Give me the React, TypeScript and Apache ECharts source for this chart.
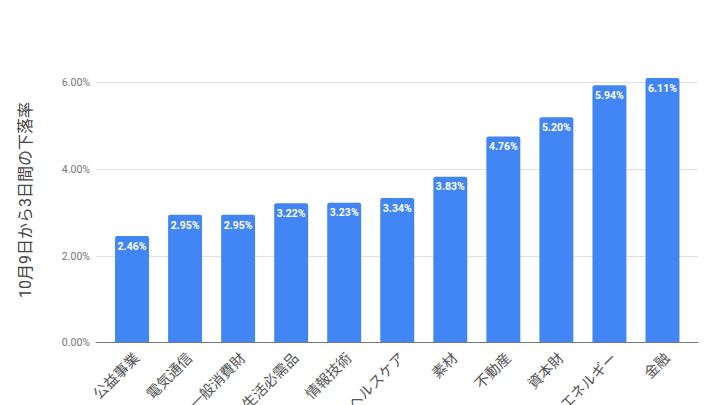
import { useEffect, useRef } from 'react';
import * as echarts from 'echarts';

const categories = [
  '公益事業',
  '電気通信',
  '一般消費財',
  '生活必需品',
  '情報技術',
  'ヘルスケア',
  '素材',
  '不動産',
  '資本財',
  'エネルギー',
  '金融',
];
const values = [2.46, 2.95, 2.95, 3.22, 3.23, 3.34, 3.83, 4.76, 5.2, 5.94, 6.11];
const yTitle = '10月9日から3日間の下落率';

const FONT = "Roboto, 'Noto Sans CJK JP', sans-serif";
const pct = (v: number) => `${v.toFixed(2)}%`;

export default function App() {
  const ref = useRef<HTMLDivElement>(null);

  useEffect(() => {
    const dom = ref.current!;
    const chart = echarts.init(dom, null, { renderer: 'svg' });

    const top = 82.7;
    const bottom = 62.3;

    chart.setOption({
      animation: false,
      textStyle: { fontFamily: FONT },
      // grid 0: gridlines + zero line, grid 1: the bars (inset like Sheets)
      grid: [
        { left: 96, right: 22, top, bottom, outerBoundsMode: 'none' },
        { left: 105.5, right: 31, top, bottom, outerBoundsMode: 'none' },
      ],
      xAxis: [
        {
          type: 'category',
          gridIndex: 0,
          data: [''],
          z: 5,
          axisLine: { lineStyle: { color: '#777', width: 1 } },
          axisTick: { show: false },
          axisLabel: { show: false },
        },
        {
          type: 'category',
          gridIndex: 1,
          data: categories,
          axisLine: { show: false },
          axisTick: { show: false },
          axisLabel: {
            rotate: 45,
            interval: 0,
            margin: 8,
            fontSize: 14.5,
            color: '#555',
            verticalAlign: 'top',
            fontFamily: FONT,
          },
        },
      ],
      yAxis: [
        {
          type: 'value',
          gridIndex: 0,
          min: 0,
          max: 6,
          interval: 2,
          axisLine: { show: false },
          axisTick: { show: false },
          splitLine: { lineStyle: { color: '#e0e0e0' } },
          axisLabel: {
            formatter: (v: number) => pct(v),
            fontSize: 10.5,
            color: '#757575',
            margin: 6,
            fontFamily: FONT,
          },
        },
        {
          type: 'value',
          gridIndex: 1,
          min: 0,
          max: 6,
          interval: 2,
          show: false,
          splitLine: { show: false },
        },
      ],
      graphic: [
        {
          type: 'text',
          x: 25,
          y: 200,
          rotation: Math.PI / 2,
          style: {
            text: yTitle,
            fontSize: 16,
            fill: '#444',
            fontFamily: FONT,
            align: 'center',
            verticalAlign: 'middle',
          },
        },
      ],
      series: [
        {
          type: 'bar',
          xAxisIndex: 1,
          yAxisIndex: 1,
          data: values,
          barWidth: '64%',
          clip: false,
          itemStyle: { color: '#4285f4', borderRadius: [2, 2, 0, 0] },
          label: {
            show: true,
            position: 'insideTop',
            distance: 5,
            formatter: (p: any) => pct(p.value),
            color: '#fff',
            fontSize: 10.5,
            fontWeight: 'bold',
            fontFamily: FONT,
          },
        },
      ],
    } as echarts.EChartsOption);

    return () => {
      chart.dispose();
    };
  }, []);

  return (
    <div
      ref={ref}
      style={{ position: 'absolute', left: 0, top: 0, width: 720, height: 405, background: '#fff' }}
    />
  );
}
